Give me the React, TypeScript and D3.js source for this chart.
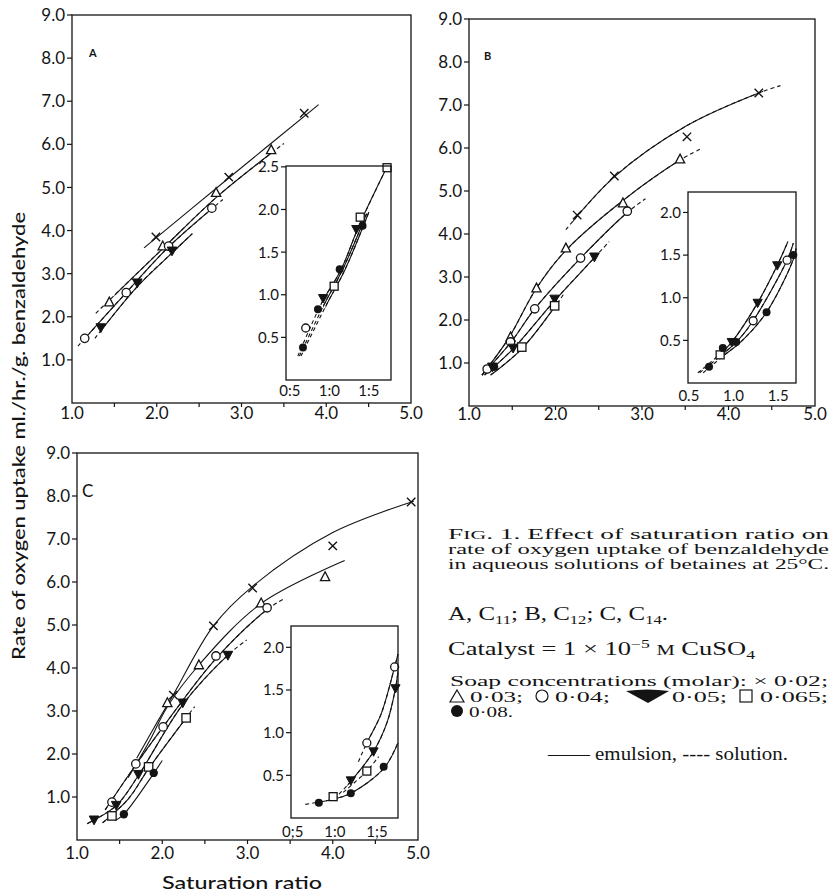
import React from 'react';
import * as d3 from 'd3';

type P = [number, number];
type Kind = 'x' | 'tri' | 'circ' | 'tdown' | 'sq' | 'dot';

// ---------- Panel A (C11) ----------
const aCross: P[] = [[1.99, 3.85], [2.85, 5.24], [3.74, 6.72]];
const aTri: P[] = [[1.44, 2.34], [2.07, 3.64], [2.70, 4.88], [3.35, 5.87]];
const aCirc: P[] = [[1.15, 1.50], [1.64, 2.56], [2.14, 3.64], [2.65, 4.52]];
const aTriDown: P[] = [[1.34, 1.75], [1.77, 2.79], [2.18, 3.53]];
const aCurveCross: P[] = [[1.85, 3.6], [2.85, 5.22], [3.91, 6.92]];
const aCurveTri: P[] = [[1.28, 2.08], [2.07, 3.58], [2.72, 4.8], [3.5, 6.02]];
const aCurveCirc: P[] = [[1.07, 1.32], [1.64, 2.56], [2.14, 3.62], [2.78, 4.72]];
const aCurveTriDown: P[] = [[1.27, 1.5], [1.77, 2.7], [2.18, 3.48], [2.42, 3.93]];

// Panel A inset
const aiDot: P[] = [[0.665, 0.38], [0.855, 0.83], [1.13, 1.30], [1.42, 1.81]];
const aiCirc: P[] = [[0.70, 0.61]];
const aiTriDown: P[] = [[0.92, 0.96], [1.34, 1.77]];
const aiSq: P[] = [[1.06, 1.10], [1.39, 1.91], [1.73, 2.49]];
const aiCurve1: P[] = [[0.6, 0.28], [0.9, 0.9], [1.15, 1.3], [1.38, 1.82], [1.73, 2.5]];
const aiCurve2: P[] = [[0.62, 0.28], [0.93, 0.88], [1.18, 1.32], [1.47, 1.95]];
const aiCurve3: P[] = [[0.64, 0.28], [0.95, 0.86], [1.2, 1.3], [1.5, 1.97]];

// ---------- Panel B (C12) ----------
const bCross: P[] = [[2.25, 4.44], [2.68, 5.35], [3.52, 6.26], [4.35, 7.28]];
const bTri: P[] = [[1.48, 1.60], [1.78, 2.74], [2.12, 3.67], [2.78, 4.72], [3.44, 5.74]];
const bCirc: P[] = [[1.21, 0.86], [1.48, 1.49], [1.76, 2.26], [2.29, 3.44], [2.83, 4.53]];
const bTriDown: P[] = [[1.27, 0.91], [1.51, 1.35], [1.99, 2.49], [2.45, 3.47]];
const bSq: P[] = [[1.61, 1.37], [1.99, 2.33]];
const bDot: P[] = [[1.29, 0.91]];
const bCurveCross: P[] = [[2.12, 4.1], [2.68, 5.33], [3.5, 6.5], [4.35, 7.28], [4.6, 7.45]];
const bCurveTri: P[] = [[1.15, 0.72], [1.45, 1.55], [1.78, 2.74], [2.12, 3.62], [2.78, 4.78], [3.44, 5.72], [3.68, 5.98]];
const bCurveCirc: P[] = [[1.15, 0.72], [1.48, 1.47], [1.76, 2.26], [2.29, 3.44], [2.83, 4.5], [3.04, 4.82]];
const bCurveTriDown: P[] = [[1.18, 0.72], [1.51, 1.33], [1.99, 2.45], [2.45, 3.45], [2.62, 3.82]];
const bCurveSq: P[] = [[1.25, 0.72], [1.61, 1.33], [1.99, 2.3], [2.1, 2.62]];

// Panel B inset
const biDot: P[] = [[0.726, 0.19], [0.88, 0.41], [1.03, 0.48], [1.37, 0.83], [1.67, 1.50]];
const biSq: P[] = [[0.85, 0.33]];
const biTriDown: P[] = [[0.98, 0.48], [1.27, 0.94], [1.49, 1.38]];
const biCirc: P[] = [[1.22, 0.73], [1.60, 1.44]];
const biCurve1: P[] = [[0.6, 0.12], [0.85, 0.34], [0.98, 0.48], [1.27, 0.94], [1.49, 1.38], [1.61, 1.66]];
const biCurve2: P[] = [[0.62, 0.12], [0.88, 0.34], [1.05, 0.5], [1.22, 0.73], [1.6, 1.44], [1.67, 1.64]];
const biCurve3: P[] = [[0.66, 0.12], [0.9, 0.33], [1.08, 0.48], [1.37, 0.83], [1.67, 1.45], [1.7, 1.58]];

// ---------- Panel C (C14) ----------
const cCross: P[] = [[2.13, 3.37], [2.60, 4.98], [3.06, 5.86], [4.00, 6.84], [4.92, 7.86]];
const cTri: P[] = [[2.06, 3.19], [2.43, 4.07], [3.16, 5.51], [3.91, 6.12]];
const cCirc: P[] = [[1.41, 0.88], [1.69, 1.77], [2.01, 2.63], [2.63, 4.28], [3.23, 5.40]];
const cTriDown: P[] = [[1.20, 0.47], [1.46, 0.81], [1.72, 1.53], [2.24, 3.19], [2.77, 4.30]];
const cSq: P[] = [[1.41, 0.56], [1.84, 1.70], [2.28, 2.84]];
const cDot: P[] = [[1.55, 0.60], [1.90, 1.56]];
const cCurveCross: P[] = [[1.7, 1.9], [1.9, 2.6], [2.13, 3.38], [2.6, 4.98], [3.06, 5.9], [4.0, 7.15], [4.95, 7.88]];
const cCurveTri: P[] = [[1.6, 1.45], [1.85, 2.3], [2.06, 3.1], [2.43, 4.07], [3.16, 5.5], [4.14, 6.5]];
const cCurveCirc: P[] = [[1.33, 0.7], [1.69, 1.75], [2.01, 2.63], [2.63, 4.22], [3.23, 5.36], [3.44, 5.62]];
const cCurveTriDown: P[] = [[1.12, 0.38], [1.46, 0.8], [1.72, 1.5], [2.24, 3.15], [2.77, 4.3], [2.99, 4.65]];
const cCurveSq: P[] = [[1.3, 0.4], [1.6, 0.95], [1.84, 1.66], [2.28, 2.84], [2.38, 3.1]];
const cCurveDot: P[] = [[1.45, 0.45], [1.55, 0.6], [1.9, 1.55], [2.0, 1.85]];

// Panel C inset
const ciDot: P[] = [[0.81, 0.18], [1.19, 0.29], [1.58, 0.60]];
const ciSq: P[] = [[0.98, 0.25], [1.38, 0.55]];
const ciTriDown: P[] = [[1.19, 0.44], [1.46, 0.78], [1.72, 1.52]];
const ciCirc: P[] = [[1.38, 0.88], [1.71, 1.77]];
const ciCurveCirc: P[] = [[1.28, 0.66], [1.38, 0.88], [1.55, 1.22], [1.71, 1.77], [1.75, 1.92]];
const ciCurveTriDown: P[] = [[1.05, 0.28], [1.19, 0.43], [1.46, 0.78], [1.62, 1.12], [1.72, 1.52], [1.75, 1.72]];
const ciCurveSq: P[] = [[1.1, 0.3], [1.38, 0.55], [1.52, 0.72]];
const ciCurveDot: P[] = [[0.65, 0.16], [0.98, 0.22], [1.19, 0.29], [1.58, 0.58], [1.75, 0.88]];

// ---------- ticks ----------
const mainYTicks = [1, 2, 3, 4, 5, 6, 7, 8, 9];
const mainXLabels = [1, 2, 3, 4, 5];
const mainXMinor = [1.5, 2, 2.5, 3, 3.5, 4, 4.5];
const insetAYTicks = [0.5, 1.0, 1.5, 2.0, 2.5];
const insetYTicks = [0.5, 1.0, 1.5, 2.0];
const insetXTicks = [0.5, 1.0, 1.5];
const insetALabels = ['0:5', '1:0', '1:5'];
const insetBLabels = ['0.5', '1.0', '1.5'];
const insetCLabels = ['0;5', '1:0', '1;5'];

const INK = '#141414';
const SANS = 'Lato, "Open Sans", sans-serif';
const SERIF = '"Liberation Serif", "DejaVu Serif", serif';

type Frame = { x0: number; x1: number; y0: number; y1: number; xd: [number, number]; yd: [number, number] };
type Curve = { pts: P[]; lo?: number; hi?: number };
type Series = { kind: Kind; pts: P[] };

function Marker({ kind, x, y, s = 1 }: { kind: Kind; x: number; y: number; s?: number }) {
  const r = 4.2 * s;
  switch (kind) {
    case 'x':
      return <path d={`M${x - r},${y - r}L${x + r},${y + r}M${x - r},${y + r}L${x + r},${y - r}`} stroke={INK} strokeWidth={1.4} />;
    case 'tri':
      return <path d={`M${x},${y - r * 1.2}L${x + r * 1.1},${y + r * 0.9}L${x - r * 1.1},${y + r * 0.9}Z`} fill="white" stroke={INK} strokeWidth={1.3} />;
    case 'circ':
      return <circle cx={x} cy={y} r={r} fill="white" stroke={INK} strokeWidth={1.3} />;
    case 'tdown':
      return <path d={`M${x - r * 1.15},${y - r * 0.9}L${x + r * 1.15},${y - r * 0.9}L${x},${y + r * 1.2}Z`} fill={INK} stroke={INK} strokeWidth={1} />;
    case 'sq':
      return <rect x={x - r} y={y - r} width={2 * r} height={2 * r} fill="white" stroke={INK} strokeWidth={1.3} />;
    case 'dot':
      return <circle cx={x} cy={y} r={r} fill={INK} />;
  }
  return null;
}

function Plot({ id, f, curves, series, yTicks, yLabel, xLabels, xLabelY, xMinor, inset, ms, fs, letter }: {
  id: string; f: Frame; curves: Curve[]; series: Series[]; yTicks: number[]; yLabel: (v: number) => string;
  xLabels: { v: number; t: string }[]; xLabelY: number; xMinor: number[]; inset?: boolean; ms: number; fs: number;
  letter?: { t: string; x: number; y: number; size: number; bold: boolean };
}) {
  const xs = d3.scaleLinear().domain(f.xd).range([f.x0, f.x1]);
  const ys = d3.scaleLinear().domain(f.yd).range([f.y1, f.y0]);
  const line = d3.line<P>().x(d => xs(d[0])).y(d => ys(d[1])).curve(d3.curveCatmullRom.alpha(0.5));
  return (
    <g>
      {inset && <rect x={f.x0} y={f.y0} width={f.x1 - f.x0} height={f.y1 - f.y0} fill="white" />}
      <defs>
        {curves.map((c, i) => {
          const lo = c.lo !== undefined ? xs(c.lo) : f.x0 - 50;
          const hi = c.hi !== undefined ? xs(c.hi) : f.x1 + 50;
          return (
            <clipPath id={`${id}-c${i}`} key={i}>
              <rect x={lo} y={f.y0 - 50} width={Math.max(0, hi - lo)} height={f.y1 - f.y0 + 100} />
            </clipPath>
          );
        })}
      </defs>
      {curves.map((c, i) => (
        <g key={i}>
          {(c.lo !== undefined || c.hi !== undefined) && (
            <path d={line(c.pts) || ''} fill="none" stroke={INK} strokeWidth={1.1} strokeDasharray="4 3" />
          )}
          <path d={line(c.pts) || ''} fill="none" stroke={INK} strokeWidth={1.1} clipPath={`url(#${id}-c${i})`} />
        </g>
      ))}
      {series.map((s, i) => (
        <g key={i}>
          {s.pts.map((p, j) => <Marker key={j} kind={s.kind} x={xs(p[0])} y={ys(p[1])} s={ms} />)}
        </g>
      ))}
      <rect x={f.x0} y={f.y0} width={f.x1 - f.x0} height={f.y1 - f.y0} fill="none" stroke={INK} strokeWidth={1.3} />
      {yTicks.map(v => (
        <g key={v}>
          <line x1={f.x0 - 5} x2={f.x0} y1={ys(v)} y2={ys(v)} stroke={INK} strokeWidth={1.2} />
          <text x={f.x0 - 7} y={ys(v)} dy="0.36em" textAnchor="end" fontFamily={SANS} fontSize={fs} fill={INK}>{yLabel(v)}</text>
        </g>
      ))}
      {xMinor.map(v => (
        <line key={v} x1={xs(v)} x2={xs(v)} y1={f.y1} y2={f.y1 + 4} stroke={INK} strokeWidth={1.2} />
      ))}
      {xLabels.map(l => (
        <text key={l.t} x={xs(l.v)} y={xLabelY} textAnchor="middle" fontFamily={SANS} fontSize={fs} fill={INK}>{l.t}</text>
      ))}
      {letter && (
        <text x={letter.x} y={letter.y} fontFamily={SANS} fontSize={letter.size} fontWeight={letter.bold ? 700 : 400} fill={INK}>{letter.t}</text>
      )}
    </g>
  );
}

const fmt1 = (v: number) => v.toFixed(1);

export default function App() {
  const mainXL = mainXLabels.map(v => ({ v, t: v.toFixed(1) }));
  const capStyle: React.CSSProperties = { whiteSpace: 'pre' };
  return (
    <svg width={829} height={895} viewBox="0 0 829 895" style={{ position: 'absolute', left: 0, top: 0, background: 'white' }}>
      <rect width={829} height={895} fill="white" />
      {/* Panel A */}
      <Plot id="A" f={{ x0: 72, x1: 411, y0: 15, y1: 403, xd: [1, 5], yd: [0, 9] }}
        curves={[
          { pts: aCurveCross },
          { pts: aCurveTri, lo: 1.5, hi: 3.38 },
          { pts: aCurveCirc, lo: 1.2, hi: 2.66 },
          { pts: aCurveTriDown, lo: 1.36 },
        ]}
        series={[
          { kind: 'x', pts: aCross }, { kind: 'tri', pts: aTri }, { kind: 'circ', pts: aCirc }, { kind: 'tdown', pts: aTriDown },
        ]}
        yTicks={mainYTicks} yLabel={fmt1} xLabels={mainXL} xLabelY={419} xMinor={mainXMinor} ms={1} fs={17}
        letter={{ t: 'A', x: 89, y: 57, size: 11, bold: true }} />
      <Plot id="Ai" inset f={{ x0: 286, x1: 391, y0: 166, y1: 380, xd: [0.45, 1.78], yd: [0, 2.51] }}
        curves={[
          { pts: aiCurve1, lo: 0.9 }, { pts: aiCurve2, lo: 0.92 }, { pts: aiCurve3, lo: 0.95 },
        ]}
        series={[
          { kind: 'circ', pts: aiCirc }, { kind: 'tdown', pts: aiTriDown }, { kind: 'sq', pts: aiSq }, { kind: 'dot', pts: aiDot },
        ]}
        yTicks={insetAYTicks} yLabel={fmt1}
        xLabels={insetXTicks.map((v, i) => ({ v, t: insetALabels[i] }))} xLabelY={396} xMinor={[]} ms={0.95} fs={15} />

      {/* Panel B */}
      <Plot id="B" f={{ x0: 469, x1: 815, y0: 19, y1: 406, xd: [1, 5], yd: [0, 9] }}
        curves={[
          { pts: bCurveCross, lo: 2.2, hi: 4.4 },
          { pts: bCurveTri, hi: 3.46 },
          { pts: bCurveCirc, hi: 2.85 },
          { pts: bCurveTriDown, hi: 2.47 },
          { pts: bCurveSq, hi: 2.0 },
        ]}
        series={[
          { kind: 'x', pts: bCross }, { kind: 'tri', pts: bTri }, { kind: 'circ', pts: bCirc }, { kind: 'tdown', pts: bTriDown },
          { kind: 'sq', pts: bSq }, { kind: 'dot', pts: bDot },
        ]}
        yTicks={mainYTicks} yLabel={fmt1} xLabels={mainXL} xLabelY={420} xMinor={mainXMinor} ms={1} fs={17}
        letter={{ t: 'B', x: 484, y: 60, size: 11, bold: true }} />
      <Plot id="Bi" inset f={{ x0: 688, x1: 796, y0: 192, y1: 383, xd: [0.49, 1.70], yd: [0, 2.24] }}
        curves={[
          { pts: biCurve1, lo: 0.85 }, { pts: biCurve2, lo: 0.88 }, { pts: biCurve3, lo: 0.9 },
        ]}
        series={[
          { kind: 'sq', pts: biSq }, { kind: 'circ', pts: biCirc }, { kind: 'tdown', pts: biTriDown }, { kind: 'dot', pts: biDot },
        ]}
        yTicks={insetYTicks} yLabel={fmt1}
        xLabels={insetXTicks.map((v, i) => ({ v, t: insetBLabels[i] }))} xLabelY={401} xMinor={[]} ms={0.95} fs={15} />

      {/* Panel C */}
      <Plot id="C" f={{ x0: 77, x1: 418, y0: 453, y1: 840, xd: [1, 5], yd: [0, 9] }}
        curves={[
          { pts: cCurveCross },
          { pts: cCurveTri },
          { pts: cCurveCirc, hi: 3.26 },
          { pts: cCurveTriDown, hi: 2.8 },
          { pts: cCurveSq, hi: 2.3 },
          { pts: cCurveDot },
        ]}
        series={[
          { kind: 'x', pts: cCross }, { kind: 'tri', pts: cTri }, { kind: 'circ', pts: cCirc }, { kind: 'tdown', pts: cTriDown },
          { kind: 'sq', pts: cSq }, { kind: 'dot', pts: cDot },
        ]}
        yTicks={mainYTicks} yLabel={fmt1} xLabels={mainXL} xLabelY={859} xMinor={mainXMinor} ms={1} fs={17}
        letter={{ t: 'C', x: 82, y: 497, size: 17, bold: false }} />
      <Plot id="Ci" inset f={{ x0: 291, x1: 398, y0: 626, y1: 818, xd: [0.48, 1.75], yd: [0, 2.25] }}
        curves={[
          { pts: ciCurveCirc, lo: 1.36 }, { pts: ciCurveTriDown, lo: 1.15 }, { pts: ciCurveSq, lo: 1.3, hi: 1.3 },
          { pts: ciCurveDot, lo: 0.8 },
        ]}
        series={[
          { kind: 'circ', pts: ciCirc }, { kind: 'tdown', pts: ciTriDown }, { kind: 'sq', pts: ciSq }, { kind: 'dot', pts: ciDot },
        ]}
        yTicks={insetYTicks} yLabel={fmt1}
        xLabels={insetXTicks.map((v, i) => ({ v, t: insetCLabels[i] }))} xLabelY={837} xMinor={[]} ms={0.95} fs={15} />

      {/* Axis titles */}
      <text transform="translate(25,436) rotate(-90)" textAnchor="middle" fontFamily={SANS} fontSize={17} fontWeight={500}
        textLength={448} lengthAdjust="spacingAndGlyphs" fill={INK}>Rate of oxygen uptake ml./hr./g. benzaldehyde</text>
      <text x={162} y={889} fontFamily={SANS} fontSize={17} fontWeight={500} textLength={160} lengthAdjust="spacingAndGlyphs" fill={INK}>Saturation ratio</text>

      {/* Caption */}
      <g fontFamily={SERIF} fill={INK} style={capStyle}>
        <text x={448} y={539} fontSize={14.5} textLength={381} lengthAdjust="spacingAndGlyphs">F<tspan fontSize={11.5}>IG</tspan>. 1.  Effect of saturation ratio on</text>
        <text x={448} y={554} fontSize={14.5} textLength={381} lengthAdjust="spacingAndGlyphs">rate of oxygen uptake of benzaldehyde</text>
        <text x={448} y={569} fontSize={14.5} textLength={381} lengthAdjust="spacingAndGlyphs">in aqueous solutions of betaines at 25°C.</text>
        <text x={448} y={620} fontSize={18} textLength={220} lengthAdjust="spacingAndGlyphs">A, C<tspan fontSize={12} dy={4}>11</tspan><tspan dy={-4}>; B, C</tspan><tspan fontSize={12} dy={4}>12</tspan><tspan dy={-4}>; C, C</tspan><tspan fontSize={12} dy={4}>14</tspan><tspan dy={-4}>.</tspan></text>
        <text x={448} y={655} fontSize={18} textLength={307} lengthAdjust="spacingAndGlyphs">Catalyst = 1 × 10<tspan fontSize={12} dy={-7}>−5</tspan><tspan dy={7}> </tspan><tspan fontSize={14}>M</tspan> CuSO<tspan fontSize={12} dy={4}>4</tspan></text>
        <text x={450} y={686} fontSize={14.5} textLength={378} lengthAdjust="spacingAndGlyphs">Soap concentrations (molar):  × 0·02;</text>
        <text x={470} y={702} fontSize={14.5} textLength={53} lengthAdjust="spacingAndGlyphs">0·03;</text>
        <text x={555} y={702} fontSize={14.5} textLength={55} lengthAdjust="spacingAndGlyphs">0·04;</text>
        <text x={672} y={702} fontSize={14.5} textLength={55} lengthAdjust="spacingAndGlyphs">0·05;</text>
        <text x={760} y={702} fontSize={14.5} textLength={68} lengthAdjust="spacingAndGlyphs">0·065;</text>
        <text x={469} y={717} fontSize={14.5} textLength={44} lengthAdjust="spacingAndGlyphs">0·08.</text>
        <text x={548} y={760} fontSize={18} textLength={240} lengthAdjust="spacingAndGlyphs">—— emulsion, ---- solution.</text>
      </g>
      {/* legend symbols */}
      <path d="M457,690L464,702L450,702Z" fill="white" stroke={INK} strokeWidth={1.2} />
      <circle cx={542} cy={696} r={6} fill="white" stroke={INK} strokeWidth={1.2} />
      <path d="M626,691Q647,688 669,691L648,703Z" fill={INK} />
      <rect x={740} y={690} width={12} height={12} fill="white" stroke={INK} strokeWidth={1.2} />
      <circle cx={457} cy={711} r={6} fill={INK} />
    </svg>
  );
}
